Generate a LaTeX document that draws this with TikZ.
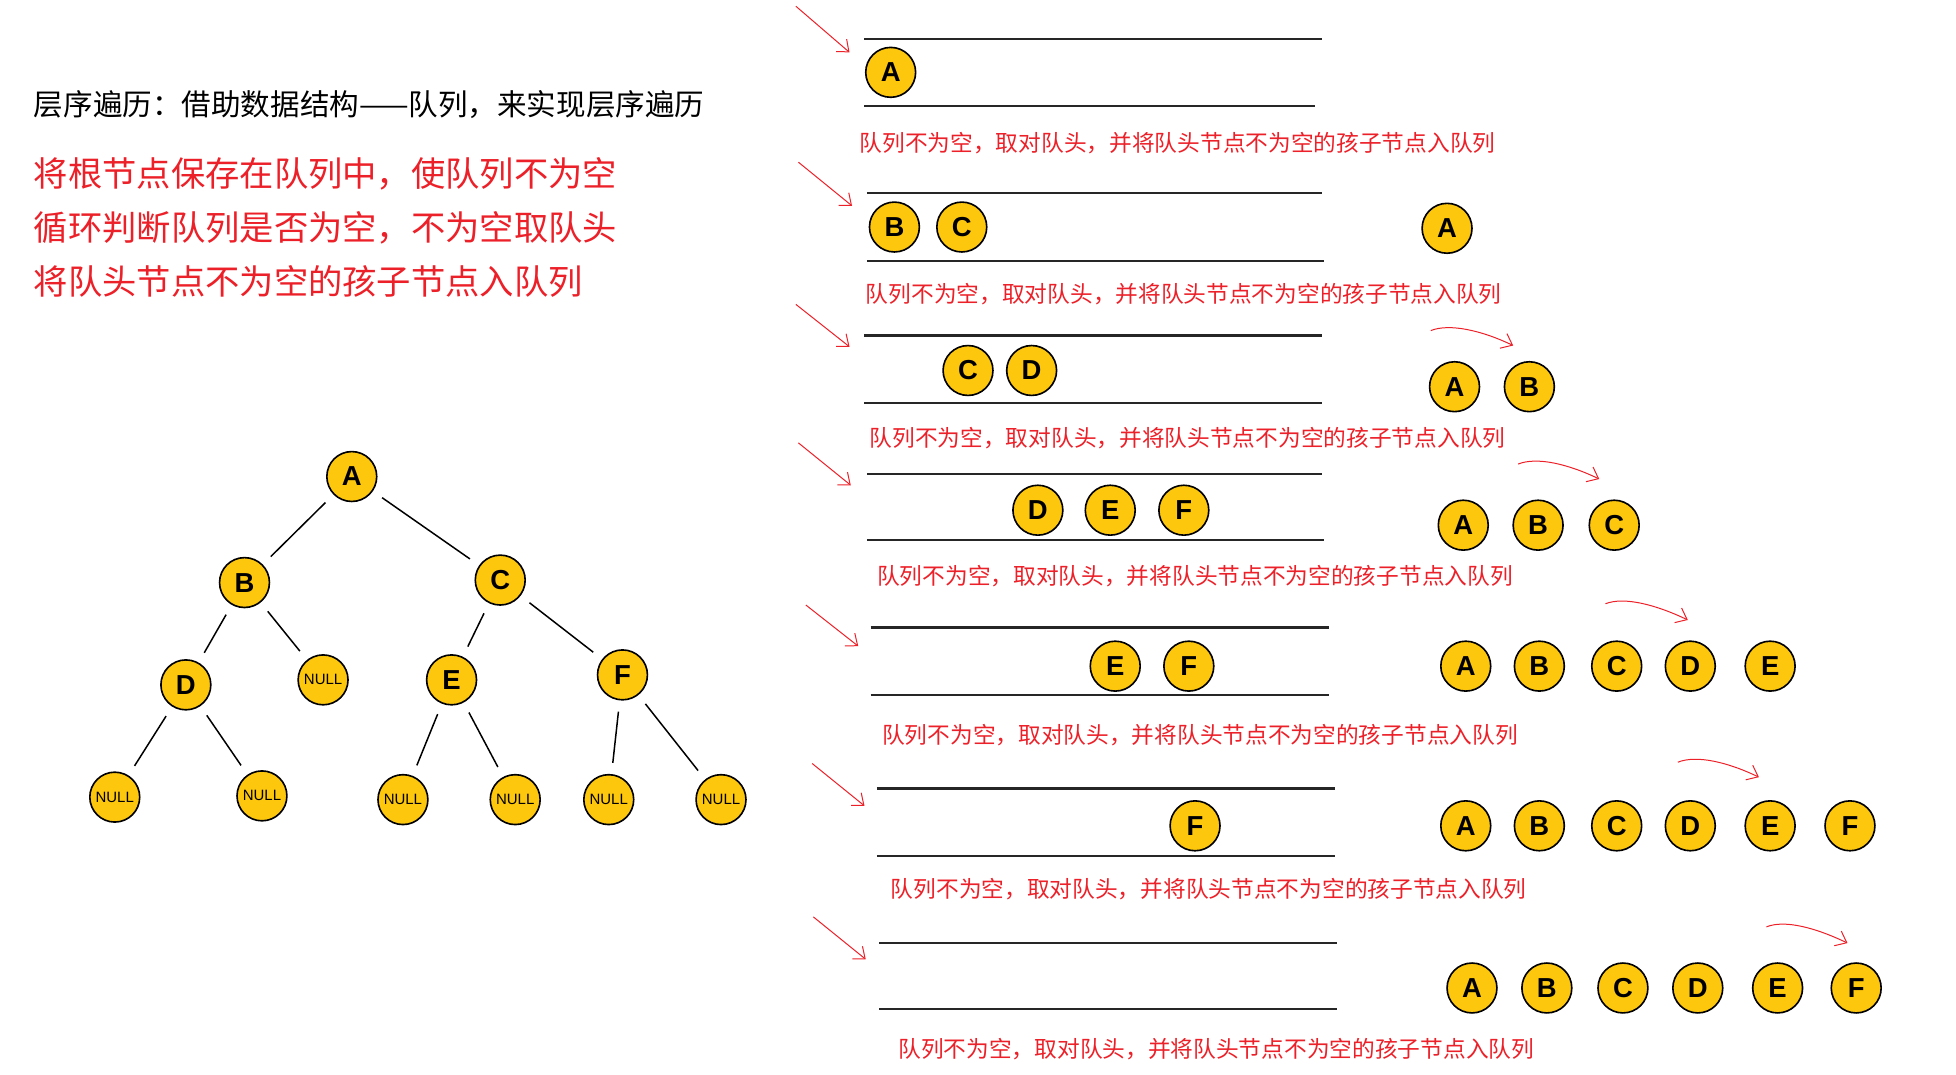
\documentclass[tikz,border=0pt]{standalone}
\usepackage{fontspec}
\newfontfamily\cjk{Noto Sans CJK SC}
\newfontfamily\lat{Liberation Sans}
\usetikzlibrary{arrows.meta}
\definecolor{nodeyellow}{RGB}{253,199,14}
\definecolor{penred}{RGB}{236,32,40}
\begin{document}
\begin{tikzpicture}[x=1pt,y=-1pt,
 nd/.style={circle,draw=black,line width=1.3pt,fill=nodeyellow,minimum size=40pt,inner sep=0pt,font=\lat\bfseries\fontsize{22}{22}\selectfont},
 nullnd/.style={nd,font=\lat\fontsize{12}{12}\selectfont},
 edge/.style={line width=1.2pt,shorten <=9pt,shorten >=9pt},
 qline/.style={line width=1.8pt,black!85},
 caption/.style={anchor=west,inner sep=0pt,text=penred,font=\cjk\fontsize{18.2}{20}\selectfont},
 redtext/.style={anchor=west,inner sep=0pt,text=penred,font=\cjk\fontsize{27.5}{30}\selectfont},
 pen/.style={penred,line width=0.8pt,-{Straight Barb[length=8pt,width=13pt]}}
]
\useasboundingbox (0,0) rectangle (1568,861);

% left texts
\node[anchor=west,inner sep=0pt,font=\cjk\fontsize{23.7}{28}\selectfont] (title) at (27,84) {层序遍历：借助数据结构——队列，来实现层序遍历};
\node[redtext] (l1) at (27,139) {将根节点保存在队列中，使队列不为空};
\node[redtext] (l2) at (27,183) {循环判断队列是否为空，不为空取队头};
\node[redtext] (l3) at (27,226) {将队头节点不为空的孩子节点入队列};

% tree
\node[nd] (tA) at (282,382) {A};
\node[nd] (tB) at (196,467) {B};
\node[nd] (tC) at (401,465) {C};
\node[nd] (tD) at (149,549) {D};
\node[nullnd] (nB) at (259,545) {NULL};
\node[nd] (tE) at (362,545) {E};
\node[nd] (tF) at (499,541) {F};
\node[nullnd] (nD1) at (92,639) {NULL};
\node[nullnd] (nD2) at (210,638) {NULL};
\node[nullnd] (nE1) at (323,641) {NULL};
\node[nullnd] (nE2) at (413,641) {NULL};
\node[nullnd] (nF1) at (488,641) {NULL};
\node[nullnd] (nF2) at (578,641) {NULL};
\draw[edge] (tA) -- (tB);
\draw[edge] (tA) -- (tC);
\draw[edge] (tB) -- (tD);
\draw[edge] (tB) -- (nB);
\draw[edge] (tC) -- (tE);
\draw[edge] (tC) -- (tF);
\draw[edge] (tD) -- (nD1);
\draw[edge] (tD) -- (nD2);
\draw[edge] (tE) -- (nE1);
\draw[edge] (tE) -- (nE2);
\draw[edge] (tF) -- (nF1);
\draw[edge] (tF) -- (nF2);

% queue lines
\draw[qline] (693,31) -- (1060,31);  \draw[qline] (693,85) -- (1054,85);
\draw[qline] (695,155) -- (1060,155); \draw[qline] (695,209) -- (1061,209);
\draw[qline] (693,269) -- (1060,269); \draw[qline] (693,323) -- (1060,323);
\draw[qline] (695,380) -- (1060,380); \draw[qline] (695,433) -- (1061,433);
\draw[qline] (698,503) -- (1065,503); \draw[qline] (698,557) -- (1065,557);
\draw[qline] (703,632) -- (1070,632); \draw[qline] (703,686) -- (1070,686);
\draw[qline] (705,756) -- (1072,756); \draw[qline] (705,809) -- (1072,809);

% diagonal red arrows
\draw[pen] (638,5) -- (681,42);
\draw[pen] (640,130) -- (683,165);
\draw[pen] (638,244) -- (681,278);
\draw[pen] (640,355) -- (682,389);
\draw[pen] (646,485) -- (688,518);
\draw[pen] (651,612) -- (693,646);
\draw[pen] (652,735) -- (694,769);

% queue contents
\node[nd] (q1A) at (714,58) {A};
\node[nd] (q2B) at (717,182) {B};
\node[nd] (q2C) at (771,182) {C};
\node[nd] (q3C) at (776,297) {C};
\node[nd] (q3D) at (827,297) {D};
\node[nd] (q4D) at (832,409) {D};
\node[nd] (q4E) at (890,409) {E};
\node[nd] (q4F) at (949,409) {F};
\node[nd] (q5E) at (894,534) {E};
\node[nd] (q5F) at (953,534) {F};
\node[nd] (q6F) at (958,662) {F};

% output sequences
\node[nd] (o2A) at (1160,183) {A};

\node[nd] (o3A) at (1166,310) {A};
\node[nd] (o3B) at (1226,310) {B};

\node[nd] (o4A) at (1173,421) {A};
\node[nd] (o4B) at (1233,421) {B};
\node[nd] (o4C) at (1294,421) {C};

\node[nd] (o5A) at (1175,534) {A};
\node[nd] (o5B) at (1234,534) {B};
\node[nd] (o5C) at (1296,534) {C};
\node[nd] (o5D) at (1355,534) {D};
\node[nd] (o5E) at (1419,534) {E};

\node[nd] (o6A) at (1175,662) {A};
\node[nd] (o6B) at (1234,662) {B};
\node[nd] (o6C) at (1296,662) {C};
\node[nd] (o6D) at (1355,662) {D};
\node[nd] (o6E) at (1419,662) {E};
\node[nd] (o6F) at (1483,662) {F};

\node[nd] (o7A) at (1180,792) {A};
\node[nd] (o7B) at (1240,792) {B};
\node[nd] (o7C) at (1301,792) {C};
\node[nd] (o7D) at (1361,792) {D};
\node[nd] (o7E) at (1425,792) {E};
\node[nd] (o7F) at (1488,792) {F};

% curved red arrows
\draw[pen] (1147,265) .. controls +(15,-6) and +(-25,-12) .. (1213,277);
\draw[pen] (1217,372) .. controls +(15,-6) and +(-25,-12) .. (1282,384);
\draw[pen] (1287,484) .. controls +(15,-6) and +(-25,-12) .. (1353,497);
\draw[pen] (1345,611) .. controls +(15,-6) and +(-25,-12) .. (1410,623);
\draw[pen] (1416,743) .. controls +(15,-6) and +(-25,-12) .. (1481,756);

% captions
\node[caption] (c1) at (689,115) {队列不为空，取对队头，并将队头节点不为空的孩子节点入队列};
\node[caption] (c2) at (694,236) {队列不为空，取对队头，并将队头节点不为空的孩子节点入队列};
\node[caption] (c3) at (697,351) {队列不为空，取对队头，并将队头节点不为空的孩子节点入队列};
\node[caption] (c4) at (703,462) {队列不为空，取对队头，并将队头节点不为空的孩子节点入队列};
\node[caption] (c5) at (707,589) {队列不为空，取对队头，并将队头节点不为空的孩子节点入队列};
\node[caption] (c6) at (714,713) {队列不为空，取对队头，并将队头节点不为空的孩子节点入队列};
\node[caption] (c7) at (720,841) {队列不为空，取对队头，并将队头节点不为空的孩子节点入队列};
\end{tikzpicture}
\end{document}
